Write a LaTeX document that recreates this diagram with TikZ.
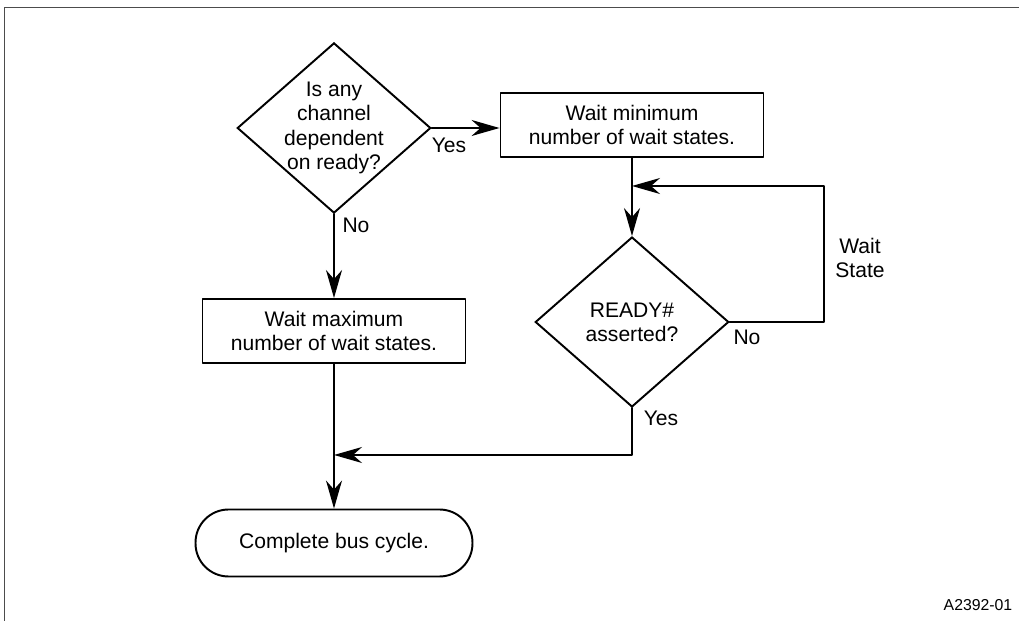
\documentclass[tikz,border=0pt]{standalone}
\usepackage{fontspec}
\setmainfont{Liberation Sans}
\usetikzlibrary{arrows.meta,positioning,shapes.geometric}
\tikzset{
  dec/.style={diamond,draw,line width=1.1pt,line join=miter,inner sep=-3pt,
              minimum width=3.87cm,minimum height=3.4cm,align=center,
              font=\fontsize{12}{13.8}\selectfont},
  act/.style={rectangle,draw,line width=1.1pt,minimum width=5.26cm,
              minimum height=1.28cm,align=center,font=\fontsize{12}{13.8}\selectfont},
  term/.style={rectangle,rounded corners=0.66cm,draw,line width=1.1pt,
               minimum width=5.54cm,minimum height=1.34cm,
               font=\fontsize{12}{13.8}\selectfont},
  lbl/.style={draw=none,align=center,font=\fontsize{12}{13.8}\selectfont},
  flow/.style={line width=1.1pt,-{Stealth[length=5.6mm,width=3.2mm,inset=1.8mm]}},
  every picture/.style={line cap=round,line join=round}}
\begin{document}
\begin{tikzpicture}[x=0.02cm,y=-0.02cm]
  \useasboundingbox (0,0) rectangle (1019,621);
  \draw[black!70,line width=1.1pt] (4.5,7.5) rectangle (1040,640);
  \node[dec] (dec1) at (334,128){Is any\\channel\\dependent\\on ready?};
  \node[act] (waitmin) at (632,125){Wait minimum\\number of wait states.};
  \node[dec] (dec2) at (632,322){READY\#\\asserted?};
  \node[act] (waitmax) at (334,331){Wait maximum\\number of wait states.};
  \node[term] (done) at (334,543){Complete bus cycle.};
  \coordinate (loop) at (824,186); \coordinate (join) at (334,455);
  \draw[flow] (dec1.east) -- (dec1.east -| waitmin.west);
  \draw[flow] (dec1.south) -- (waitmax.north);
  \draw[flow] (waitmin.south) -- (dec2.north);
  \draw[flow] (dec2.east) -| (loop) -- (waitmin.south |- loop);
  \draw[flow] (dec2.south) |- (join);
  \draw[flow] (waitmax.south) -- (done.north);
  \node[lbl] (yes1) at (449,145){Yes}; \node[lbl] (no1) at (356,225){No};
  \node[lbl] (no2) at (747,337){No}; \node[lbl] (yes2) at (661,418){Yes};
  \node[lbl] (wstate) at (860,258){Wait\\State};
  \node[lbl,font=\fontsize{9}{11}\selectfont] (figid) at (978,605){A2392-01};
\end{tikzpicture}
\end{document}
